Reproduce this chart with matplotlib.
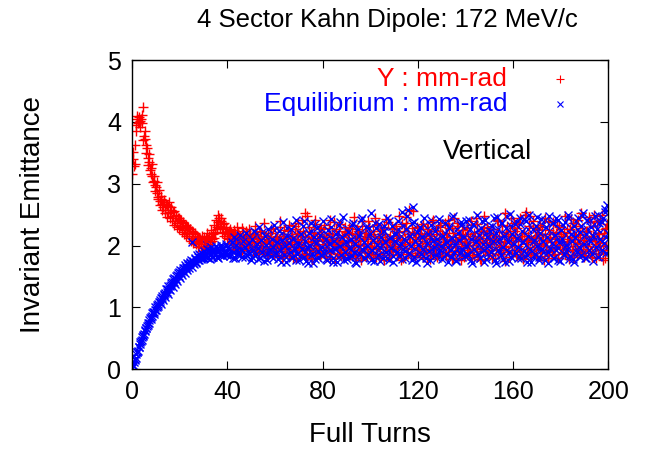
import numpy as np
import matplotlib
matplotlib.use("Agg")
import matplotlib.pyplot as plt

plt.rcParams["font.family"] = ["Liberation Sans", "DejaVu Sans"]

# emittance sampled every half turn (whole turns, from turn 0)
emit_y = [
    3.15, 3.52, 3.32, 3.85, 4.05, 3.98, 4.08, 4.02, 4.12, 4.24,
    3.78, 3.72, 3.50, 3.42, 3.35, 3.22, 3.25, 3.12, 3.05, 2.98,
    2.95, 2.85, 2.78, 2.72, 2.80, 2.68, 2.62, 2.74, 2.58, 2.66,
    2.52, 2.70, 2.55, 2.62, 2.48, 2.56, 2.40, 2.50, 2.36, 2.45,
    2.32, 2.42, 2.28, 2.38, 2.25, 2.34, 2.20, 2.30, 2.16, 2.26,
    2.12, 2.22, 2.08, 2.18, 2.05, 2.14, 2.02, 2.10, 2.06, 2.15,
    2.00, 2.08, 2.12, 2.03, 2.10, 2.05, 2.14, 2.08, 2.18, 2.12,
    2.22, 2.30, 2.38, 2.45, 2.32, 2.40, 2.28, 2.36, 2.22, 2.30,
    2.18, 2.24,
    2.15, 2.22, 2.08, 2.18, 2.25, 2.10, 2.02, 2.20, 2.14, 2.05, 2.28, 2.12, 1.98, 2.16, 2.24, 2.06, 2.10, 2.19, 2.00, 2.13,
    2.08, 1.95, 2.18, 2.04, 2.12, 1.90, 2.22, 2.06, 1.98, 2.15, 2.02, 1.88, 2.20, 2.09, 1.96, 2.26, 2.05, 1.92, 2.14, 2.00,
    1.85, 2.10, 2.30, 1.96, 2.04, 1.82, 2.18, 2.08, 1.94, 2.24, 1.88, 2.02, 2.15, 1.79, 2.06, 2.32, 1.98, 2.11, 1.86, 2.20,
    2.05, 2.42, 1.92, 2.16, 1.84, 2.48, 2.08, 1.96, 2.22, 1.80, 2.12, 2.01, 2.35, 1.90, 2.07, 2.18, 1.83, 2.26, 1.97, 2.10,
    1.88, 2.14, 2.03, 2.28, 1.78, 2.09, 2.19, 1.94, 2.38, 2.02, 1.86, 2.12, 2.24, 1.92, 2.06, 1.81, 2.17, 2.30, 1.99, 2.08,
    2.20, 1.84, 2.05, 2.34, 1.93, 2.12, 1.80, 2.26, 2.01, 2.15, 1.89, 2.40, 2.07, 1.95, 2.21, 1.83, 2.10, 2.32, 1.97, 2.04,
    1.86, 2.18, 2.44, 1.94, 2.08, 1.79, 2.24, 2.02, 2.13, 1.88, 2.30, 1.98, 2.09, 2.38, 1.82, 2.16, 2.05, 1.91, 2.27, 2.00,
    2.12, 1.85, 2.22, 2.03, 1.77, 2.35, 1.96, 2.10, 2.46, 1.90, 2.18, 2.06, 1.84, 2.28, 2.56, 2.01, 2.14, 1.88, 2.20, 1.95,
    2.08, 2.32, 1.81, 2.15, 2.00, 1.92, 2.26, 2.06, 1.78, 2.19, 2.38, 1.94, 2.11, 1.86, 2.24, 2.03, 1.97, 2.30, 1.83, 2.13,
    2.05, 1.90, 2.21, 2.42, 1.87, 2.09, 1.99, 2.28, 1.80, 2.14, 2.02, 2.36, 1.93, 2.17, 1.76, 2.07, 2.25, 1.96, 2.11, 1.85,
    2.19, 2.01, 1.89, 2.33, 2.06, 1.82, 2.16, 2.45, 1.95, 2.10, 1.78, 2.23, 2.04, 1.91, 2.29, 1.98, 2.12, 1.84, 2.20, 2.03,
    1.93, 2.27, 2.08, 1.80, 2.15, 2.39, 1.97, 2.05, 1.86, 2.22, 2.00, 1.75, 2.18, 2.31, 1.92, 2.09, 2.44, 1.88, 2.13, 1.99,
    2.24, 1.83, 2.07, 2.36, 1.95, 2.11, 1.79, 2.20, 2.50, 2.02, 1.90, 2.16, 2.47, 1.85, 2.06, 2.28, 1.97, 2.12, 1.81, 2.25,
    2.04, 1.92, 2.30, 2.09, 1.77, 2.18, 2.00, 2.40, 1.89, 2.14, 2.05, 1.84, 2.22, 1.96, 2.11, 2.34, 1.80, 2.07, 2.19, 1.94,
    2.15, 2.01, 1.87, 2.26, 2.08, 1.78, 2.21, 2.43, 1.93, 2.10, 1.99, 2.32, 1.85, 2.17, 2.04, 1.91, 2.28, 2.02, 1.82, 2.13,
    2.23, 1.95, 2.09, 2.38, 1.88, 2.16, 2.50, 2.03, 1.79, 2.20, 2.06, 2.42, 1.92, 2.12, 1.76, 2.27, 2.00, 2.35, 1.90,
]

# second set of samples, quarter turn later
emit_y_b = [
    3.40, 3.28, 3.62, 3.95, 4.10, 4.00, 3.92, 4.05, 3.98, 3.70,
    3.85, 3.62, 3.58, 3.30, 3.48, 3.15, 3.32, 3.02, 3.12, 2.88,
    3.02, 2.75, 2.90, 2.65, 2.76, 2.58, 2.70, 2.52, 2.68, 2.46,
    2.64, 2.44, 2.58, 2.40, 2.55, 2.34, 2.48, 2.30, 2.44, 2.26,
    2.40, 2.22, 2.36, 2.18, 2.32, 2.15, 2.28, 2.12, 2.26, 2.08,
    2.24, 2.04, 2.20, 2.02, 2.16, 1.98, 2.12, 2.00, 2.10, 1.96,
    2.14, 2.02, 2.20, 1.98, 2.16, 2.06, 2.25, 2.10, 2.34, 2.20,
    2.42, 2.26, 2.50, 2.28, 2.44, 2.20, 2.35, 2.15, 2.26, 2.12,
    2.20,
    2.10, 2.26, 2.04, 2.17, 1.95, 2.21, 2.12, 2.30, 2.00, 2.16, 2.08, 1.93, 2.24, 2.11, 2.02, 2.19, 1.97, 2.27, 2.06, 2.14,
    1.91, 2.17, 2.32, 2.01, 1.86, 2.10, 2.23, 1.96, 2.07, 2.36, 1.89, 2.13, 2.04, 1.84, 2.21, 2.09, 1.98, 2.29, 1.87, 2.06,
    2.16, 1.93, 2.02, 2.40, 1.81, 2.12, 2.25, 1.90, 2.07, 1.99, 2.33, 1.85, 2.14, 2.05, 1.92, 2.27, 1.80, 2.18, 2.37, 1.95,
    2.09, 1.87, 2.23, 2.00, 2.52, 1.83, 2.13, 2.30, 1.94, 2.05, 1.78, 2.20, 2.41, 1.91, 2.10, 1.99, 2.28, 1.86, 2.15, 2.03,
    2.33, 1.82, 2.07, 1.96, 2.21, 2.42, 1.88, 2.11, 2.01, 1.79, 2.26, 2.08, 1.94, 2.35, 1.85, 2.14, 2.04, 1.90, 2.22, 1.97,
    2.06, 2.29, 1.86, 2.18, 1.98, 2.46, 1.83, 2.09, 2.24, 1.92, 2.03, 1.77, 2.31, 2.12, 1.89, 2.20, 2.00, 2.39, 1.84, 2.15,
    1.95, 2.23, 2.08, 1.81, 2.34, 1.99, 2.13, 1.87, 2.26, 2.05, 1.76, 2.19, 2.43, 1.93, 2.10, 2.01, 1.85, 2.28, 2.07, 1.96,
    2.31, 1.90, 2.16, 2.48, 1.99, 2.09, 1.80, 2.24, 2.02, 2.36, 1.87, 2.58, 2.13, 1.94, 2.05, 2.22, 1.83, 2.11, 2.30, 1.98,
    1.86, 2.19, 2.04, 2.35, 1.91, 2.12, 1.79, 2.27, 2.00, 2.15, 1.88, 2.41, 2.07, 1.96, 2.23, 1.82, 2.10, 2.33, 1.94, 2.18,
    2.02, 2.37, 1.84, 2.14, 1.97, 2.29, 2.08, 1.78, 2.20, 2.44, 1.90, 2.06, 2.32, 1.87, 2.12, 1.99, 2.25, 1.81, 2.16, 2.05,
    2.28, 1.92, 2.10, 2.40, 1.85, 2.01, 2.21, 1.96, 2.35, 1.83, 2.13, 2.06, 1.76, 2.24, 2.47, 1.93, 2.09, 2.30, 1.88, 2.17,
    2.04, 1.80, 2.26, 2.11, 1.95, 2.42, 1.86, 2.15, 2.01, 2.33, 1.89, 2.07, 2.52, 1.98, 2.18, 1.82, 2.23, 2.05, 1.93, 2.37,
    2.12, 1.87, 2.29, 2.00, 2.45, 1.91, 2.16, 1.78, 2.21, 2.55, 2.08, 1.94, 2.32, 1.84, 2.10, 2.39, 1.97, 2.14, 1.88, 2.26,
    2.03, 2.34, 1.83, 2.17, 1.99, 2.44, 1.92, 2.08, 1.80, 2.25, 2.12, 1.95, 2.38, 1.86, 2.05, 2.20, 1.79, 2.30, 2.01, 2.15,
    1.90, 2.22, 2.48, 1.98, 2.11, 1.84, 2.27, 2.06, 1.93, 2.36, 1.81, 2.14, 2.02, 2.41, 1.88, 2.19, 2.53, 1.95, 2.09, 1.85,
    2.24, 2.00, 2.46, 1.91, 2.13, 1.82, 2.31, 2.07, 1.97, 2.39, 1.86, 2.18, 2.04, 2.49, 1.93, 2.21, 1.80, 2.28, 2.01,
]

emit_eq = [
    0.02, 0.06, 0.14, 0.18, 0.27, 0.30, 0.36, 0.44, 0.47, 0.55,
    0.56, 0.64, 0.66, 0.74, 0.75, 0.82, 0.81, 0.90, 0.89, 0.96,
    0.95, 1.03, 1.02, 1.09, 1.06, 1.15, 1.12, 1.20, 1.17, 1.25,
    1.22, 1.30, 1.28, 1.36, 1.33, 1.41, 1.38, 1.46, 1.42, 1.50,
    1.47, 1.55, 1.52, 1.60, 1.56, 1.64, 1.60, 1.68, 1.63, 1.71,
    1.66, 1.75, 1.70, 1.78, 1.72, 1.82, 1.76, 1.84, 1.78, 1.86,
    1.80, 1.88, 2.02, 1.82, 1.90, 1.78, 1.86, 1.93, 1.81, 1.89,
    1.84, 1.96, 1.80, 1.92, 1.85, 1.98, 1.83, 1.90, 1.87, 2.00,
    1.84, 1.94,
    1.88, 2.02, 1.92, 1.80, 1.97, 2.08, 1.86, 1.95, 2.10, 1.84, 1.99, 1.90, 2.12, 1.82, 1.96, 2.04, 1.87, 2.15, 1.93, 1.81,
    2.00, 1.89, 2.18, 1.94, 1.78, 2.06, 1.91, 2.22, 1.85, 1.98, 2.09, 1.76, 1.95, 2.14, 1.88, 2.03, 1.80, 2.25, 1.93, 1.99,
    1.84, 2.11, 1.96, 1.74, 2.20, 1.90, 2.05, 1.82, 2.28, 1.97, 1.86, 2.13, 1.79, 2.01, 2.32, 1.92, 1.77, 2.07, 1.95, 2.18,
    1.83, 2.00, 2.40, 1.89, 1.75, 2.16, 1.98, 1.85, 2.24, 1.93, 1.72, 2.08, 2.35, 1.90, 1.80, 2.12, 1.96, 2.27, 1.84, 2.03,
    1.94, 1.78, 2.19, 2.05, 1.87, 2.30, 1.92, 1.73, 2.10, 1.99, 2.22, 1.82, 1.97, 2.38, 1.86, 2.04, 1.76, 2.15, 1.91, 2.26,
    1.81, 2.07, 1.95, 2.33, 1.88, 1.74, 2.12, 2.00, 1.84, 2.21, 1.93, 2.44, 1.79, 2.06, 1.96, 2.17, 1.85, 2.29, 1.90, 1.77,
    2.09, 1.98, 2.36, 1.83, 2.14, 1.92, 1.75, 2.24, 2.03, 1.87, 2.31, 1.95, 1.80, 2.11, 2.40, 1.89, 2.00, 1.73, 2.19, 1.94,
    2.06, 2.27, 1.82, 1.97, 2.15, 1.78, 2.33, 1.91, 2.08, 2.48, 1.86, 2.02, 2.20, 1.76, 2.62, 2.38, 1.94, 2.12, 1.84, 2.25,
    1.99, 1.80, 2.17, 2.34, 1.90, 2.07, 1.72, 2.23, 1.96, 2.41, 1.85, 2.10, 1.93, 2.28, 1.79, 2.02, 2.36, 1.88, 2.14, 1.97,
    1.83, 2.20, 2.05, 1.74, 2.31, 1.92, 2.13, 2.45, 1.86, 2.00, 1.77, 2.26, 2.09, 1.95, 2.38, 1.81, 2.16, 1.99, 2.29, 1.87,
    2.04, 2.42, 1.91, 1.76, 2.18, 2.33, 1.85, 2.08, 1.97, 2.25, 1.80, 2.12, 2.39, 1.93, 1.73, 2.21, 2.02, 1.88, 2.30, 2.07,
    1.82, 2.15, 2.44, 1.95, 1.71, 2.27, 2.06, 1.89, 2.36, 2.00, 1.78, 2.19, 2.47, 1.92, 2.10, 1.75, 2.32, 2.03, 1.86, 2.23,
    2.40, 1.94, 1.79, 2.14, 2.35, 1.87, 2.08, 2.43, 1.83, 2.01, 1.74, 2.26, 2.11, 1.90, 2.38, 2.05, 1.81, 2.20, 2.46, 1.96,
    1.77, 2.12, 2.34, 1.89, 2.02, 2.41, 1.85, 1.72, 2.24, 2.09, 1.93, 2.37, 1.80, 2.16, 2.44, 1.98, 1.76, 2.29, 2.06, 1.91,
    2.33, 1.84, 2.18, 2.00, 2.45, 1.78, 2.11, 2.28, 1.88, 1.73, 2.21, 2.39, 1.95, 2.07, 1.82, 2.31, 2.48, 1.90, 2.14, 1.79,
    2.26, 2.03, 1.86, 2.42, 2.17, 1.75, 2.35, 2.10, 1.94, 2.49, 1.83, 2.22, 2.05, 2.38, 1.89, 2.55, 2.13, 2.66, 1.97,
]

emit_eq_b = [
    0.05, 0.11, 0.16, 0.24, 0.28, 0.36, 0.40, 0.46, 0.52, 0.54,
    0.61, 0.66, 0.70, 0.71, 0.79, 0.84, 0.86, 0.93, 0.92, 1.00,
    1.01, 1.06, 1.08, 1.12, 1.15, 1.18, 1.22, 1.23, 1.29, 1.30,
    1.34, 1.35, 1.40, 1.41, 1.45, 1.47, 1.51, 1.52, 1.55, 1.57,
    1.60, 1.58, 1.64, 1.63, 1.68, 1.66, 1.72, 1.70, 1.74, 1.76,
    2.06, 1.72, 1.80, 1.74, 1.84, 1.77, 1.87, 1.79, 1.88, 1.80,
    1.91, 1.83, 1.94, 1.79, 1.92, 1.85, 1.97, 1.82, 1.95, 1.87,
    1.99, 1.81, 1.93, 1.88, 2.01, 1.84, 1.96, 1.89, 2.03, 1.86,
    1.97,
    1.95, 1.83, 2.06, 1.90, 2.13, 1.79, 2.01, 1.92, 1.86, 2.17, 1.94, 1.81, 2.07, 1.98, 2.20, 1.85, 1.91, 2.04, 1.77, 2.10,
    1.93, 2.24, 1.84, 2.02, 1.96, 2.30, 1.80, 2.09, 1.90, 1.75, 2.16, 2.01, 1.87, 2.27, 1.94, 1.83, 2.11, 1.97, 2.34, 1.88,
    2.05, 1.78, 2.23, 1.92, 2.09, 2.38, 1.85, 1.99, 1.73, 2.15, 2.04, 1.89, 2.26, 1.81, 2.12, 1.95, 2.42, 1.87, 2.02, 1.76,
    2.19, 1.94, 2.31, 1.82, 2.07, 1.98, 1.71, 2.21, 2.00, 2.36, 1.86, 2.13, 1.78, 2.04, 2.29, 1.91, 2.17, 1.84, 1.97, 2.39,
    1.88, 2.10, 1.76, 2.25, 2.02, 1.93, 2.43, 1.80, 2.08, 1.95, 2.19, 1.74, 2.33, 1.99, 1.85, 2.14, 2.46, 1.89, 2.05, 1.78,
    2.22, 1.96, 2.11, 1.83, 2.37, 1.90, 2.03, 1.72, 2.26, 2.15, 1.87, 2.41, 1.94, 2.06, 1.79, 2.30, 2.00, 1.86, 2.18, 2.52,
    1.92, 2.09, 1.75, 2.28, 2.01, 1.84, 2.35, 1.97, 2.14, 1.80, 2.23, 2.05, 1.89, 2.44, 1.77, 2.12, 1.96, 2.32, 1.83, 2.07,
    2.18, 1.90, 2.40, 1.85, 2.03, 2.55, 1.94, 2.11, 1.79, 2.27, 2.58, 1.88, 2.15, 1.99, 2.36, 1.82, 2.08, 1.73, 2.22, 2.01,
    2.30, 1.87, 2.13, 1.95, 2.45, 1.80, 2.04, 2.19, 1.91, 1.76, 2.34, 2.07, 1.98, 2.24, 1.84, 2.10, 2.43, 1.93, 2.00, 1.78,
    2.16, 2.37, 1.86, 2.05, 1.97, 2.28, 1.81, 2.12, 2.48, 1.90, 2.02, 1.75, 2.21, 2.09, 1.88, 2.33, 1.95, 2.14, 1.83, 2.40,
    1.99, 1.85, 2.26, 2.11, 1.72, 2.35, 1.94, 2.06, 2.50, 1.87, 2.17, 1.80, 2.29, 2.03, 1.92, 2.42, 1.78, 2.13, 2.00, 2.24,
    1.89, 2.31, 2.07, 1.76, 2.20, 2.46, 1.93, 2.10, 1.84, 2.37, 1.97, 2.15, 1.74, 2.28, 2.05, 1.90, 2.51, 1.81, 2.18, 2.02,
    2.35, 1.88, 2.12, 1.97, 2.44, 1.79, 2.23, 2.06, 1.91, 2.39, 1.84, 2.16, 2.49, 1.95, 1.73, 2.27, 2.09, 1.86, 2.32, 2.00,
    1.82, 2.20, 2.43, 1.94, 2.08, 1.77, 2.30, 2.13, 1.89, 2.47, 1.96, 2.04, 2.36, 1.80, 2.17, 1.92, 2.41, 2.05, 1.75, 2.25,
    2.11, 1.87, 2.38, 2.01, 1.94, 2.50, 1.83, 2.19, 2.07, 1.78, 2.32, 2.14, 1.90, 2.45, 1.98, 2.22, 1.84, 2.53, 2.03, 1.79,
    2.19, 2.41, 1.92, 2.08, 2.30, 1.86, 2.15, 2.47, 1.97, 2.26, 1.81, 2.36, 2.10, 1.93, 2.44, 2.04, 2.59, 1.88, 2.21,
]

turns_a_y = np.arange(len(emit_y)) * 0.5
turns_b_y = 0.25 + np.arange(len(emit_y_b)) * 0.5
turns_a_eq = np.arange(len(emit_eq)) * 0.5
turns_b_eq = 0.25 + np.arange(len(emit_eq_b)) * 0.5

fig = plt.figure(figsize=(6.64, 4.49), dpi=100)
ax = fig.add_axes([0.199, 0.178, 0.717, 0.688])

red_style = dict(linestyle="none", marker="+", color="red",
                 markersize=7, markeredgewidth=1.0)
blue_style = dict(linestyle="none", marker="x", color="blue",
                  markersize=6, markeredgewidth=1.0)
# layer the two sample sets so both series stay visible in the band
ax.plot(turns_a_y, emit_y, **red_style)
ax.plot(turns_a_eq, emit_eq, **blue_style)
ax.plot(turns_b_y, emit_y_b, **red_style)
ax.plot(turns_b_eq, emit_eq_b, **blue_style)

ax.set_xlim(0, 200)
ax.set_ylim(0, 5)
ax.set_xticks([0, 40, 80, 120, 160, 200])
ax.set_yticks([0, 1, 2, 3, 4, 5])
ax.tick_params(direction="in", length=6, width=0.8, top=True, right=True,
               labelsize=18, pad=8)
for s in ax.spines.values():
    s.set_linewidth(1.0)

ax.set_xlabel("Full Turns", fontsize=20, labelpad=13)
ax.set_ylabel("Invariant Emittance", fontsize=20, labelpad=44)
ax.set_title("4 Sector Kahn Dipole: 172 MeV/c", fontsize=18.5, pad=24,
             x=0.536)

# gnuplot style key
ax.text(0.788, 0.9385, "Y : mm-rad", color="red", fontsize=19,
        ha="right", va="center", transform=ax.transAxes)
ax.text(0.788, 0.8576, "Equilibrium : mm-rad", color="blue", fontsize=19,
        ha="right", va="center", transform=ax.transAxes)
ax.plot([0.899], [0.9385], marker="+", color="red", markersize=6,
        markeredgewidth=0.8, transform=ax.transAxes)
ax.plot([0.899], [0.8576], marker="x", color="blue", markersize=5,
        markeredgewidth=0.8, transform=ax.transAxes)
ax.text(0.746, 0.702, "Vertical", color="black", fontsize=19.5,
        ha="center", va="center", transform=ax.transAxes)

fig.savefig("out.png", dpi=100)
